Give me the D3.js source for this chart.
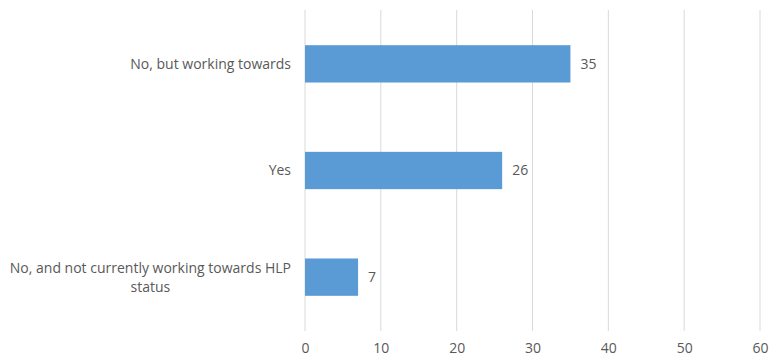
<!DOCTYPE html>
<html>
<head>
<meta charset="utf-8">
<script src="https://cdn.jsdelivr.net/npm/d3@7"></script>
<style>
  html, body { margin: 0; padding: 0; background: #fff; }
  svg { display: block; }
  text { font-family: "Open Sans", "Liberation Sans", sans-serif; fill: #595959; }
</style>
</head>
<body>
<svg id="chart" width="769" height="358"></svg>
<script>
// Survey responses: HLP status
const categories = [
  "No, but working towards",
  "Yes",
  "No, and not currently working towards HLP status"
];
const values = [35, 26, 7];
const xTicks = [0, 10, 20, 30, 40, 50, 60];

const FS = "14px";
const svg = d3.select("#chart");
const margin = { top: 10, right: 9, bottom: 27, left: 305 };
const W = 769, H = 358;
const plotW = W - margin.left - margin.right;
const plotH = H - margin.top - margin.bottom;

const g = svg.append("g").attr("transform", `translate(${margin.left},${margin.top})`);

const x = d3.scaleLinear().domain([0, 60]).range([0, plotW]);
const y = d3.scaleBand().domain(categories).range([0, plotH]).paddingInner(0.65).paddingOuter(0.33);

// vertical gridlines
g.selectAll("line.grid")
  .data(xTicks)
  .join("line")
  .attr("class", "grid")
  .attr("x1", d => x(d)).attr("x2", d => x(d))
  .attr("y1", 0).attr("y2", plotH)
  .attr("stroke", "#d9d9d9")
  .attr("stroke-width", 1);

// bottom tick labels
const xAxis = d3.axisBottom(x).tickValues(xTicks).tickSize(0).tickPadding(12);
const ax = g.append("g").attr("transform", `translate(0,${plotH})`).call(xAxis);
ax.select(".domain").remove();
ax.selectAll("text").style("font-size", FS).attr("fill", "#595959");

// bars
g.selectAll("rect.bar")
  .data(values)
  .join("rect")
  .attr("class", "bar")
  .attr("x", x(0))
  .attr("y", (d, i) => y(categories[i]))
  .attr("width", d => x(d) - x(0))
  .attr("height", y.bandwidth())
  .attr("fill", "#5b9bd5");

// value labels
g.selectAll("text.val")
  .data(values)
  .join("text")
  .attr("class", "val")
  .attr("x", d => x(d) + 10)
  .attr("y", (d, i) => y(categories[i]) + y.bandwidth() / 2)
  .attr("dy", "0.35em")
  .style("font-size", FS)
  .text(d => d);

// category labels, wrapped to a maximum width
const maxLabelW = 285;
const labelRight = -14;
const lineH = 19;
categories.forEach(cat => {
  const cy = y(cat) + y.bandwidth() / 2;
  const t = g.append("text").style("font-size", FS);
  const words = cat.split(" ");
  const lines = [];
  let cur = [];
  const probe = g.append("text").style("font-size", FS);
  words.forEach(w => {
    const test = cur.concat([w]).join(" ");
    probe.text(test);
    if (probe.node().getComputedTextLength() > maxLabelW && cur.length) {
      lines.push(cur.join(" "));
      cur = [w];
    } else {
      cur.push(w);
    }
  });
  lines.push(cur.join(" "));
  const widths = lines.map(l => { probe.text(l); return probe.node().getComputedTextLength(); });
  probe.remove();
  const maxW = d3.max(widths);
  const centerX = labelRight - maxW / 2;
  const startY = cy - (lines.length - 1) * lineH / 2;
  lines.forEach((l, i) => {
    t.append("tspan")
      .attr("x", lines.length > 1 ? centerX : labelRight)
      .attr("y", startY + i * lineH)
      .attr("dy", "0.35em")
      .attr("text-anchor", lines.length > 1 ? "middle" : "end")
      .text(l);
  });
});
</script>
</body>
</html>
